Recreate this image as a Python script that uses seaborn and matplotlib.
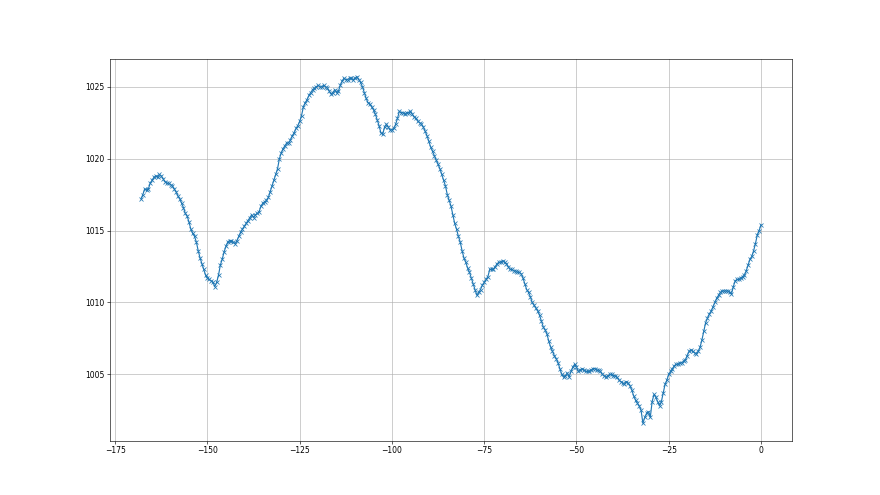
import matplotlib
matplotlib.use("Agg")
import matplotlib.pyplot as plt
import seaborn as sns
import numpy as np
import pandas as pd

# half-hourly readings, hours relative to now, pressure in hPa
hours = np.arange(-168, 0.25, 0.5)
pressure = [
    1017.2, 1017.5, 1017.9, 1017.8, 1017.9, 1018.3, 1018.5, 1018.7, 1018.8, 1018.7,  # -168..-164
    1018.9, 1018.8, 1018.6, 1018.4, 1018.3, 1018.3, 1018.2, 1018.1, 1017.9, 1017.7,  # -163..-159
    1017.4, 1017.2, 1016.9, 1016.6, 1016.2, 1016.0, 1015.6, 1015.1, 1014.8, 1014.6,  # -158..-154
    1014.2, 1013.6, 1013.1, 1012.7, 1012.3, 1011.9, 1011.7, 1011.6, 1011.5, 1011.4,  # -153..-149
    1011.1, 1011.4, 1011.9, 1012.6, 1013.0, 1013.5, 1013.9, 1014.2, 1014.3, 1014.3,  # -148..-144
    1014.2, 1014.1, 1014.3, 1014.6, 1014.9, 1015.1, 1015.3, 1015.5, 1015.7, 1015.9,  # -143..-139
    1016.1, 1015.9, 1016.1, 1016.2, 1016.3, 1016.7, 1016.9, 1017.0, 1017.1, 1017.3,  # -138..-134
    1017.7, 1018.1, 1018.5, 1018.9, 1019.3, 1020.0, 1020.4, 1020.7, 1020.9, 1021.1,  # -133..-129
    1021.1, 1021.3, 1021.6, 1021.8, 1022.1, 1022.3, 1022.6, 1023.0, 1023.6, 1023.9,  # -128..-124
    1024.1, 1024.4, 1024.6, 1024.8, 1024.9, 1025.0, 1025.1, 1025.0, 1025.0, 1025.1,  # -123..-119
    1025.0, 1024.9, 1024.7, 1024.5, 1024.6, 1024.8, 1024.6, 1024.7, 1025.1, 1025.4,  # -118..-114
    1025.6, 1025.5, 1025.5, 1025.6, 1025.6, 1025.5, 1025.6, 1025.7, 1025.5, 1025.3,  # -113..-109
    1025.0, 1024.6, 1024.2, 1023.9, 1023.8, 1023.6, 1023.4, 1023.1, 1022.7, 1022.3,  # -108..-104
    1021.8, 1021.7, 1022.2, 1022.4, 1022.2, 1022.0, 1022.0, 1022.1, 1022.4, 1022.8,  # -103..-99
    1023.3, 1023.2, 1023.2, 1023.1, 1023.2, 1023.2, 1023.3, 1023.1, 1022.9, 1022.8,  # -98..-94
    1022.6, 1022.5, 1022.4, 1022.2, 1021.9, 1021.6, 1021.2, 1020.8, 1020.5, 1020.2,  # -93..-89
    1019.9, 1019.6, 1019.3, 1018.9, 1018.5, 1018.1, 1017.5, 1017.1, 1016.7, 1016.1,  # -88..-84
    1015.5, 1015.1, 1014.6, 1014.2, 1013.6, 1013.1, 1012.8, 1012.4, 1012.1, 1011.7,  # -83..-79
    1011.3, 1010.9, 1010.5, 1010.7, 1010.9, 1011.2, 1011.4, 1011.6, 1011.8, 1012.3,  # -78..-74
    1012.3, 1012.3, 1012.5, 1012.7, 1012.8, 1012.8, 1012.9, 1012.8, 1012.7, 1012.5,  # -73..-69
    1012.3, 1012.3, 1012.2, 1012.2, 1012.1, 1012.1, 1012.0, 1011.7, 1011.3, 1010.9,  # -68..-64
    1010.7, 1010.4, 1010.0, 1009.8, 1009.6, 1009.4, 1009.1, 1008.7, 1008.3, 1008.1,  # -63..-59
    1007.8, 1007.3, 1006.9, 1006.6, 1006.3, 1006.1, 1005.8, 1005.4, 1005.0, 1004.8,  # -58..-54
    1004.9, 1005.1, 1004.8, 1005.2, 1005.5, 1005.7, 1005.5, 1005.2, 1005.3, 1005.4,  # -53..-49
    1005.3, 1005.2, 1005.2, 1005.2, 1005.3, 1005.4, 1005.4, 1005.3, 1005.3, 1005.2,  # -48..-44
    1005.0, 1004.9, 1004.8, 1004.9, 1005.0, 1005.0, 1004.9, 1004.9, 1004.8, 1004.6,  # -43..-39
    1004.5, 1004.4, 1004.3, 1004.5, 1004.4, 1004.2, 1003.9, 1003.5, 1003.2, 1003.0,  # -38..-34
    1002.8, 1002.5, 1001.6, 1002.0, 1002.3, 1002.4, 1002.0, 1003.1, 1003.6, 1003.4,  # -33..-29
    1003.1, 1002.8, 1003.1, 1003.7, 1004.3, 1004.6, 1005.0, 1005.2, 1005.4, 1005.6,  # -28..-24
    1005.7, 1005.7, 1005.8, 1005.8, 1005.9, 1006.0, 1006.3, 1006.6, 1006.7, 1006.6,  # -23..-19
    1006.5, 1006.4, 1006.6, 1006.9, 1007.4, 1008.0, 1008.6, 1008.9, 1009.2, 1009.4,  # -18..-14
    1009.7, 1010.0, 1010.3, 1010.5, 1010.7, 1010.8, 1010.8, 1010.8, 1010.8, 1010.7,  # -13..-9
    1010.6, 1011.1, 1011.5, 1011.6, 1011.6, 1011.7, 1011.8, 1011.9, 1012.2, 1012.6,  # -8..-4
    1013.0, 1013.2, 1013.6, 1014.1, 1014.7, 1015.0, 1015.4,                          # -3..0
]

df = pd.DataFrame({"h": hours, "p": pressure})

fig, ax = plt.subplots(figsize=(16, 9), dpi=55)
sns.lineplot(data=df, x="h", y="p", marker="x", color="C0",
             markeredgecolor="C0", markeredgewidth=1.0, markersize=6, ax=ax)
ax.set_xlabel("")
ax.set_ylabel("")
ax.grid(True)
fig.savefig("out.png", dpi=55)
